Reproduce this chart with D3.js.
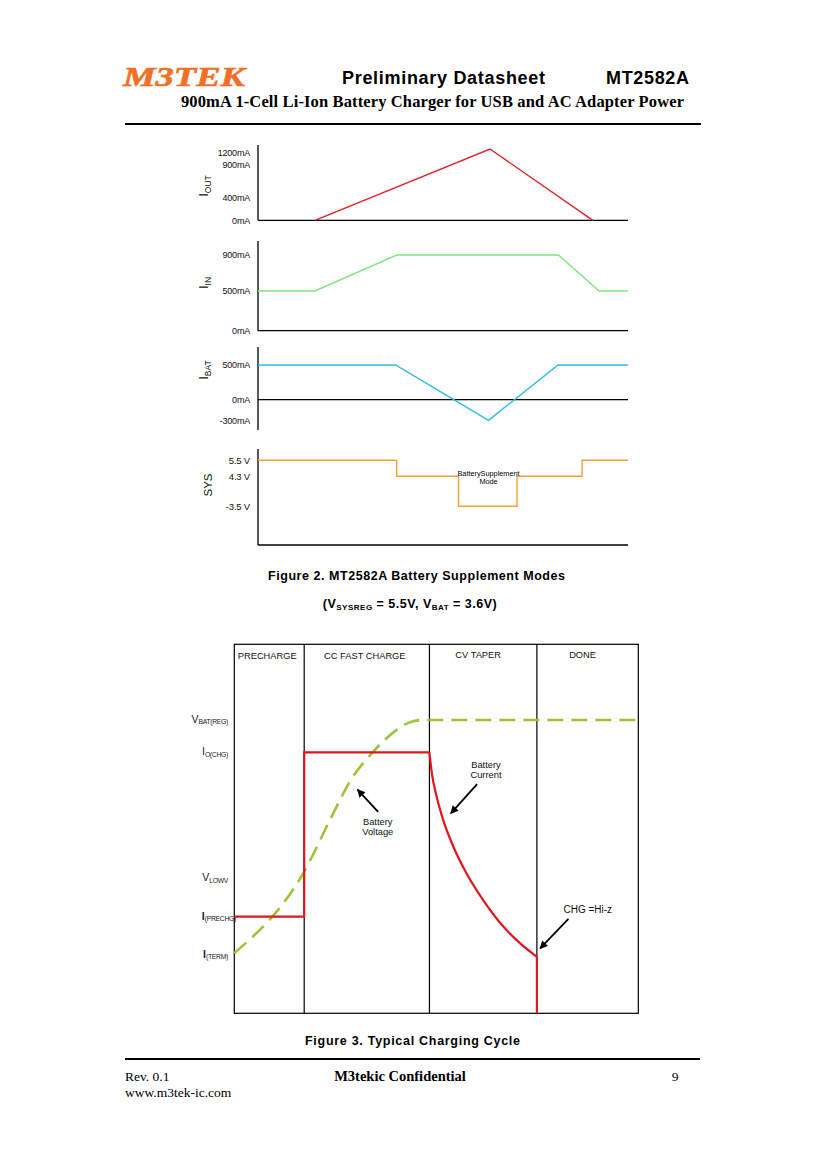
<!DOCTYPE html>
<html>
<meta charset="utf-8">
<script src="https://cdn.jsdelivr.net/npm/d3@7/dist/d3.min.js"></script>
<title>MT2582A Preliminary Datasheet - page 9</title>
<style>
body { margin: 0; background: #fff; }
text { font-family: "Liberation Sans", Arial, sans-serif; }
.serif { font-family: "Liberation Serif", "Times New Roman", serif; }
</style>
<body>
<script type="text/javascript">

// ---------- Figure 2 data (time in arbitrary units 0..100) ----------
var iout_t  = [15.4, 62.7, 90.5];
var iout_mA = [0, 1290, 0];
var iin_t   = [0, 15.4, 37.5, 81.2, 92.2, 100];
var iin_mA  = [500, 500, 900, 900, 500, 500];
var ibat_t  = [0, 37.2, 62.3, 81.1, 100];
var ibat_mA = [500, 500, -300, 500, 500];
var sys_t   = [0, 37.5, 54.2, 70.0, 87.6, 100];
var sys_V   = [5.5, 4.3, 3.5, 4.3, 5.5, 5.5];

var iout_ticks = [1200, 900, 400, 0];
var iout_labels = ["1200mA", "900mA", "400mA", "0mA"];
var iin_ticks = [900, 500, 0];
var iin_labels = ["900mA", "500mA", "0mA"];
var ibat_ticks = [500, 0, -300];
var ibat_labels = ["500mA", "0mA", "-300mA"];
var sys_ticks = [5.5, 4.3, 3.5];
var sys_labels = ["5.5 V", "4.3 V", "-3.5 V"];

// ---------- Figure 3 data (time 0..100, level 0..100) ----------
var phases = ["PRECHARGE", "CC FAST CHARGE", "CV TAPER", "DONE"];
var phase_edges = [0, 17.3, 48.3, 74.9, 100];
var level_main = ["V", "I", "V", "I", "I"];
var level_sub  = ["BAT(REG)", "O(CHG)", "LOWV", "(PRECHG)", "(TERM)"];
var level_vals = [79.5, 70.8, 36.6, 26.2, 15.8];
var vbat_t = [0, 17.3, 24.5, 28.6, 34.4, 40.2, 43.5, 46.8, 100];
var vbat_v = [16.3, 38.4, 54.2, 62.8, 70.9, 76.8, 78.9, 79.5, 79.5];
var ichg_t = [0, 17.3, 17.3, 48.3];
var ichg_v = [26.2, 26.2, 70.7, 70.7];
var taper_t = [48.3, 48.9, 50.1, 51.7, 54.2, 57.5, 61.6, 66.6, 70.7, 74.9];
var taper_v = [70.7, 65.0, 58.7, 52.4, 45.2, 37.9, 30.7, 23.5, 19.0, 15.3];
var done_t = [74.9, 74.9];
var done_v = [15.3, 0];

var svg = d3.select("body")
    .append("svg")
    .attr("width", 826)
    .attr("height", 1169);

svg.append("rect").attr("width", 826).attr("height", 1169).attr("fill", "#fff");

// arrow head
svg.append("defs").append("marker")
    .attr("id", "arrow")
    .attr("markerUnits", "userSpaceOnUse")
    .attr("viewBox", "0 0 10 10")
    .attr("markerWidth", 9)
    .attr("markerHeight", 8)
    .attr("refX", 9)
    .attr("refY", 5)
    .attr("orient", "auto")
    .append("path")
    .attr("d", "M0,0 L10,5 L0,10 z")
    .attr("fill", "#000");

// ---------- page header ----------
svg.append("text").attr("class", "serif")
    .attr("x", 123).attr("y", 86)
    .attr("textLength", 122)
    .attr("lengthAdjust", "spacingAndGlyphs")
    .style("font-size", "27px").style("font-weight", "bold").style("font-style", "italic")
    .attr("fill", "#F07026")
    .attr("stroke", "#F07026").attr("stroke-width", 0.6)
    .text("M3TEK");
svg.append("text")
    .attr("x", 342).attr("y", 84)
    .attr("textLength", 203)
    .style("font-size", "18px").style("font-weight", "bold")
    .text("Preliminary Datasheet");
svg.append("text")
    .attr("x", 606).attr("y", 84)
    .attr("textLength", 83)
    .style("font-size", "18px").style("font-weight", "bold")
    .text("MT2582A");
svg.append("text").attr("class", "serif")
    .attr("x", 181).attr("y", 107)
    .attr("textLength", 503)
    .style("font-size", "16.5px").style("font-weight", "bold")
    .text("900mA 1-Cell Li-Ion Battery Charger for USB and AC Adapter Power");
svg.append("line")
    .attr("x1", 125).attr("x2", 701).attr("y1", 124).attr("y2", 124)
    .attr("stroke", "#000").attr("stroke-width", 2);

// ---------- Figure 2 ----------
var xScale = d3.scaleLinear().domain([0, 100]).range([258, 628]);

var panels = [
    { title: "I", sub: "OUT", tx: 208, ty: 186, top: 145, bottom: 220.3,
      yScale: d3.scaleLinear().domain([0, 400, 900, 1200]).range([220.3, 197.3, 165, 152.7]),
      ticks: iout_ticks, labels: iout_labels, base: 0,
      t: iout_t, v: iout_mA, color: "#E0202C", curve: d3.curveLinear },
    { title: "I", sub: "IN", tx: 208, ty: 283, top: 241, bottom: 330.7,
      yScale: d3.scaleLinear().domain([0, 500, 900]).range([330.7, 291, 255]),
      ticks: iin_ticks, labels: iin_labels, base: 0,
      t: iin_t, v: iin_mA, color: "#82E482", curve: d3.curveLinear },
    { title: "I", sub: "BAT", tx: 208, ty: 370, top: 347, bottom: 430,
      yScale: d3.scaleLinear().domain([-300, 500]).range([420.3, 365]),
      ticks: ibat_ticks, labels: ibat_labels, base: 0,
      t: ibat_t, v: ibat_mA, color: "#2CBCE4", curve: d3.curveLinear },
    { title: "SYS", sub: "", tx: 212, ty: 485, top: 449, bottom: 545,
      yScale: d3.scaleLinear().domain([3.5, 4.3, 5.5]).range([506.3, 476.3, 460.3]),
      ticks: sys_ticks, labels: sys_labels, base: null,
      t: sys_t, v: sys_V, color: "#F2A236", curve: d3.curveStepAfter }
];

panels.forEach(function(p, k) {
    var g = svg.append("g").attr("class", "panel");

    // tick labels
    g.append("g")
        .attr("transform", "translate(" + xScale(0) + ",0)")
        .call(d3.axisLeft(p.yScale)
            .tickValues(p.ticks)
            .tickSize(0)
            .tickPadding(8)
            .tickFormat(function(d, i) { return p.labels[i]; }))
        .call(function(a) { a.select(".domain").remove(); })
        .selectAll("text")
        .style("font-family", "'Liberation Sans', Arial, sans-serif")
        .style("font-size", k == 3 ? "9.5px" : "9px")
        .style("letter-spacing", "-0.2px")
        .attr("fill", "#111");

    // vertical axis line
    g.append("line")
        .attr("x1", xScale(0)).attr("x2", xScale(0))
        .attr("y1", p.top).attr("y2", p.bottom)
        .attr("stroke", "#000").attr("stroke-width", 1.3);

    // baseline
    var by = p.base === null ? p.bottom : p.yScale(p.base);
    g.append("line")
        .attr("x1", xScale(0)).attr("x2", xScale(100))
        .attr("y1", by).attr("y2", by)
        .attr("stroke", "#000").attr("stroke-width", 1.3);

    // waveform
    var line = d3.line()
        .curve(p.curve)
        .x(function(d) { return xScale(d[0]); })
        .y(function(d) { return p.yScale(d[1]); });
    g.append("path")
        .datum(d3.zip(p.t, p.v))
        .attr("d", line)
        .attr("fill", "none")
        .attr("stroke", p.color)
        .attr("stroke-width", 1.4);

    // rotated title
    var title = g.append("text")
        .attr("transform", "translate(" + p.tx + "," + p.ty + ") rotate(-90)")
        .attr("text-anchor", "middle")
        .style("font-size", k == 3 ? "11.5px" : "13px")
        .attr("fill", "#111")
        .text(p.title);
    if (p.sub) {
        title.append("tspan")
            .attr("dy", "0.3em")
            .style("font-size", "8.5px")
            .text(p.sub);
    }
});

// annotation in the SYS panel
var sysScale = panels[3].yScale;
svg.append("text")
    .attr("x", xScale(62.3)).attr("y", sysScale(4.3) - 0.5)
    .attr("text-anchor", "middle")
    .style("font-size", "7.3px")
    .text("BatterySupplement");
svg.append("text")
    .attr("x", xScale(62.3)).attr("y", sysScale(4.3) + 7.5)
    .attr("text-anchor", "middle")
    .style("font-size", "7.3px")
    .text("Mode");

// caption
svg.append("text")
    .attr("x", 268).attr("y", 579.5)
    .attr("textLength", 297)
    .style("font-size", "12.5px").style("font-weight", "bold")
    .text("Figure 2. MT2582A Battery Supplement Modes");
var cap2 = svg.append("text")
    .attr("x", 410).attr("y", 608)
    .attr("text-anchor", "middle")
    .style("font-size", "12.5px").style("font-weight", "bold")
    .style("letter-spacing", "0.5px");
cap2.append("tspan").text("(V");
cap2.append("tspan").attr("dy", 2).style("font-size", "8px").text("SYSREG");
cap2.append("tspan").attr("dy", -2).text(" = 5.5V, V");
cap2.append("tspan").attr("dy", 2).style("font-size", "8px").text("BAT");
cap2.append("tspan").attr("dy", -2).text(" = 3.6V)");

// ---------- Figure 3 ----------
var tScale = d3.scaleLinear().domain([0, 100]).range([234.3, 638.3]);
var lScale = d3.scaleLinear().domain([0, 100]).range([1013.3, 644.3]);

var fig3 = svg.append("g").attr("class", "fig3");

fig3.append("rect")
    .attr("x", tScale(0)).attr("y", lScale(100))
    .attr("width", tScale(100) - tScale(0))
    .attr("height", lScale(0) - lScale(100))
    .attr("fill", "none").attr("stroke", "#000").attr("stroke-width", 1.2);

fig3.selectAll(".divider")
    .data(phase_edges.slice(1, -1))
    .enter().append("line")
    .attr("class", "divider")
    .attr("x1", function(d) { return tScale(d); })
    .attr("x2", function(d) { return tScale(d); })
    .attr("y1", lScale(100)).attr("y2", lScale(0))
    .attr("stroke", "#000").attr("stroke-width", 1.2);

// phase headings, nudged slightly left of the column centre as in the source
fig3.selectAll(".phase")
    .data(phases)
    .enter().append("text")
    .attr("class", "phase")
    .attr("x", function(d, i) { return tScale((phase_edges[i] + phase_edges[i + 1]) / 2) - (i >= 2 ? 5 : 2); })
    .attr("y", function(d, i) { return i < 2 ? 659 : 657.5; })
    .attr("text-anchor", "middle")
    .style("font-size", "9.3px")
    .attr("fill", "#111")
    .text(function(d) { return d; });

// level labels
level_vals.forEach(function(v, i) {
    var t = fig3.append("text")
        .attr("x", i == 3 ? 236 : 228)
        .attr("y", lScale(v) + 3)
        .attr("text-anchor", "end")
        .attr("fill", "#222")
        .style("font-size", "10.5px")
        .style("font-weight", i >= 3 ? "bold" : "normal");
    t.append("tspan").text(level_main[i]);
    t.append("tspan")
        .attr("dy", 1.5)
        .style("font-size", "6.8px")
        .style("font-weight", "normal")
        .style("letter-spacing", "-0.3px")
        .text(level_sub[i]);
});

var line3 = d3.line()
    .x(function(d) { return tScale(d[0]); })
    .y(function(d) { return lScale(d[1]); });

// battery voltage (dashed)
fig3.append("path")
    .datum(d3.zip(vbat_t, vbat_v))
    .attr("d", line3.curve(d3.curveMonotoneX))
    .attr("fill", "none")
    .attr("stroke", "#9CC53A")
    .attr("stroke-width", 2.6)
    .attr("stroke-dasharray", "16,8");

// battery current
fig3.append("path")
    .datum(d3.zip(ichg_t, ichg_v))
    .attr("d", line3.curve(d3.curveLinear))
    .attr("fill", "none").attr("stroke", "#E2141C").attr("stroke-width", 2.2)
    .attr("stroke-linejoin", "miter");
fig3.append("path")
    .datum(d3.zip(taper_t, taper_v))
    .attr("d", line3.curve(d3.curveMonotoneX))
    .attr("fill", "none").attr("stroke", "#E2141C").attr("stroke-width", 2.2);
fig3.append("path")
    .datum(d3.zip(done_t, done_v))
    .attr("d", line3.curve(d3.curveLinear))
    .attr("fill", "none").attr("stroke", "#E2141C").attr("stroke-width", 2.2);

// annotations
var notes = [
    { lines: ["Battery", "Voltage"], t: 35.5, v: 51.9, from: [35.6, 54.6], to: [30.5, 60.6], size: "9.3px" },
    { lines: ["Battery", "Current"], t: 62.3, v: 67.4, from: [60.1, 62.1], to: [53.6, 54.2], size: "9.3px" },
    { lines: ["CHG =Hi-z"], t: 87.5, v: 28, from: [82.7, 25.6], to: [75.7, 17.6], size: "10px" }
];
notes.forEach(function(n) {
    n.lines.forEach(function(s, j) {
        fig3.append("text")
            .attr("x", tScale(n.t))
            .attr("y", lScale(n.v) + 3 + j * 10.5)
            .attr("text-anchor", "middle")
            .style("font-size", n.size)
            .attr("fill", "#111")
            .text(s);
    });
    fig3.append("line")
        .attr("x1", tScale(n.from[0])).attr("y1", lScale(n.from[1]))
        .attr("x2", tScale(n.to[0])).attr("y2", lScale(n.to[1]))
        .attr("stroke", "#000").attr("stroke-width", 1.8)
        .attr("marker-end", "url(#arrow)");
});

svg.append("text")
    .attr("x", 305).attr("y", 1045)
    .attr("textLength", 215)
    .style("font-size", "12.5px").style("font-weight", "bold")
    .text("Figure 3. Typical Charging Cycle");

// ---------- page footer ----------
svg.append("line")
    .attr("x1", 125).attr("x2", 700).attr("y1", 1059).attr("y2", 1059)
    .attr("stroke", "#000").attr("stroke-width", 2);
svg.append("text").attr("class", "serif")
    .attr("x", 125).attr("y", 1081)
    .style("font-size", "13.5px")
    .text("Rev. 0.1");
svg.append("text").attr("class", "serif")
    .attr("x", 125).attr("y", 1097)
    .style("font-size", "13.5px")
    .text("www.m3tek-ic.com");
svg.append("text").attr("class", "serif")
    .attr("x", 400).attr("y", 1081)
    .attr("text-anchor", "middle")
    .style("font-size", "14.5px").style("font-weight", "bold")
    .text("M3tekic Confidential");
svg.append("text").attr("class", "serif")
    .attr("x", 675).attr("y", 1081)
    .attr("text-anchor", "middle")
    .style("font-size", "13.5px")
    .text("9");

</script>
</body>
</html>
